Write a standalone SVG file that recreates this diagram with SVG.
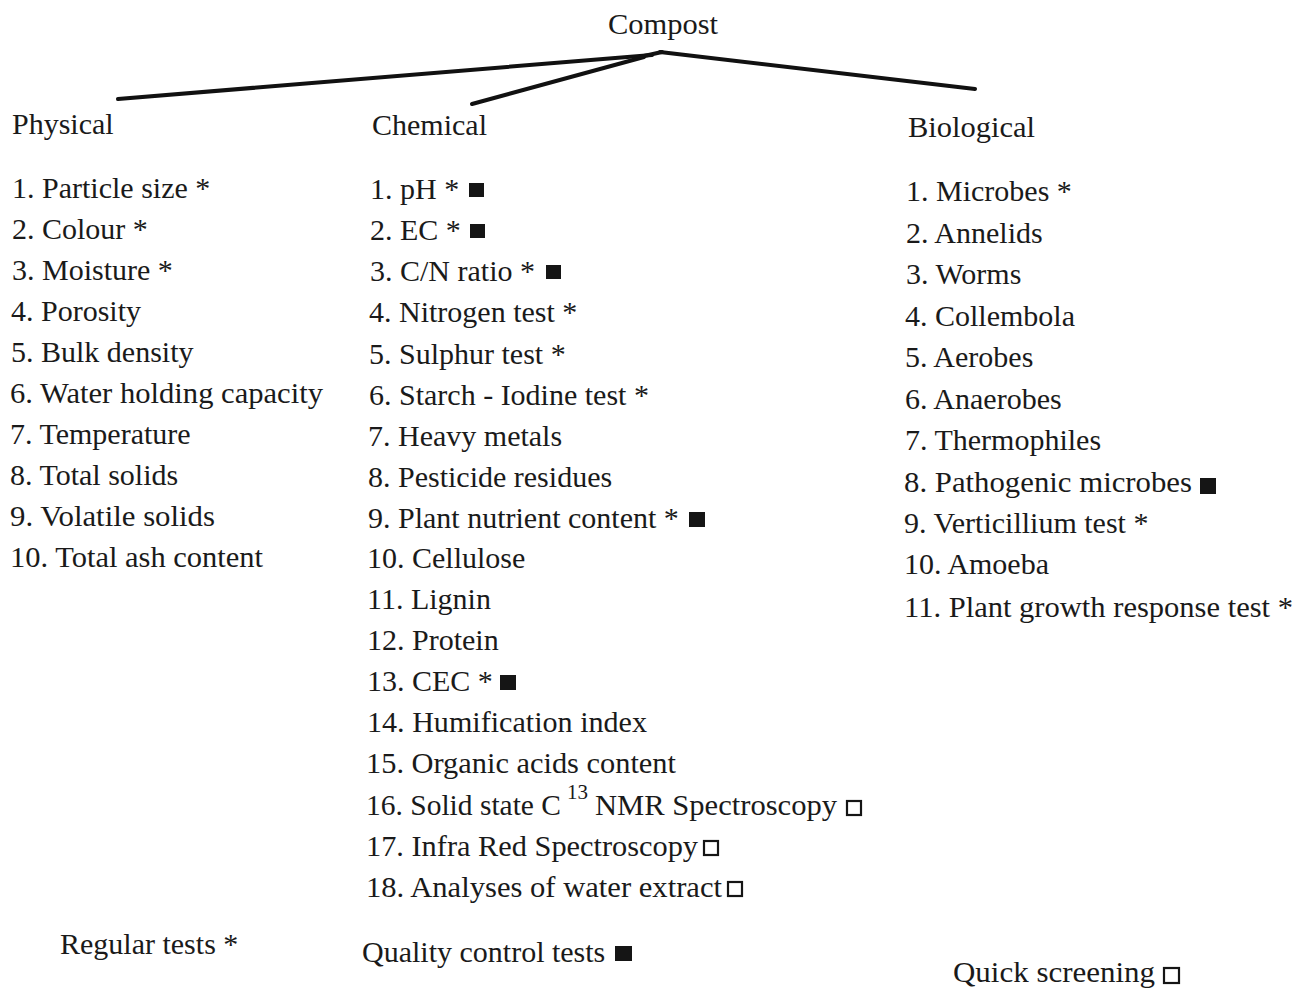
<svg xmlns="http://www.w3.org/2000/svg" width="1304" height="992" viewBox="0 0 1304 992">
<style>
text{font-family:"Liberation Serif","Times New Roman",serif;font-size:30px;fill:#1a1a1a}
text.sup{font-size:21px}
.c{stroke:#111;stroke-width:4;fill:none;stroke-linecap:round}
.f{fill:#151515}
.h{fill:#fff;stroke:#151515;stroke-width:2.2}
</style>
<rect width="1304" height="992" fill="#fff"/>
<g id="connectors">
<line class="c" x1="118" y1="99" x2="652" y2="55"/>
<line class="c" x1="472" y1="104" x2="644" y2="57"/>
<line class="c" x1="660" y1="52" x2="975" y2="89"/>
<line class="c" x1="644" y1="56" x2="662" y2="52"/>
</g>
<g id="compost"><text x="608" y="34" textLength="110" lengthAdjust="spacingAndGlyphs">Compost</text></g>
<g id="physical">
<text x="12" y="134">Physical</text>
<text x="12" y="198">1. Particle size *</text>
<text x="12" y="239">2. Colour *</text>
<text x="12" y="280">3. Moisture *</text>
<text x="11" y="321">4. Porosity</text>
<text x="11" y="362">5. Bulk density</text>
<text x="10" y="403" textLength="313" lengthAdjust="spacingAndGlyphs">6. Water holding capacity</text>
<text x="10" y="444">7. Temperature</text>
<text x="10" y="485">8. Total solids</text>
<text x="10" y="526" textLength="205" lengthAdjust="spacingAndGlyphs">9. Volatile solids</text>
<text x="10" y="567" textLength="253" lengthAdjust="spacingAndGlyphs">10. Total ash content</text>
</g>
<g id="chemical">
<text x="372" y="135">Chemical</text>
<text x="370" y="199">1. pH *</text><rect class="f" x="469" y="183" width="15" height="14"/>
<text x="370" y="240">2. EC *</text><rect class="f" x="470" y="224" width="15" height="14"/>
<text x="370" y="281">3. C/N ratio *</text><rect class="f" x="546" y="265" width="15" height="14"/>
<text x="369" y="322">4. Nitrogen test *</text>
<text x="369" y="364">5. Sulphur test *</text>
<text x="369" y="405">6. Starch - Iodine test *</text>
<text x="368" y="446">7. Heavy metals</text>
<text x="368" y="487">8. Pesticide residues</text>
<text x="368" y="528">9. Plant nutrient content *</text><rect class="f" x="689" y="512" width="16" height="15"/>
<text x="367" y="568">10. Cellulose</text>
<text x="367" y="609">11. Lignin</text>
<text x="367" y="650">12. Protein</text>
<text x="367" y="691">13. CEC *</text><rect class="f" x="500" y="675" width="16" height="15"/>
<text x="367" y="732" textLength="280" lengthAdjust="spacingAndGlyphs">14. Humification index</text>
<text x="366" y="773" textLength="310" lengthAdjust="spacingAndGlyphs">15. Organic acids content</text>
<text x="366" y="815" textLength="195" lengthAdjust="spacingAndGlyphs">16. Solid state C</text><text class="sup" x="567" y="799" textLength="21" lengthAdjust="spacingAndGlyphs">13</text><text x="595" y="815" textLength="242" lengthAdjust="spacingAndGlyphs">NMR Spectroscopy</text><rect class="h" x="847" y="801" width="14" height="14"/>
<text x="366" y="856" textLength="332" lengthAdjust="spacingAndGlyphs">17. Infra Red Spectroscopy</text><rect class="h" x="704" y="841" width="14" height="14"/>
<text x="366" y="897" textLength="356" lengthAdjust="spacingAndGlyphs">18. Analyses of water extract</text><rect class="h" x="728" y="882" width="14" height="14"/>
</g>
<g id="biological">
<text x="908" y="137" textLength="127" lengthAdjust="spacingAndGlyphs">Biological</text>
<text x="906" y="201">1. Microbes *</text>
<text x="906" y="243">2. Annelids</text>
<text x="906" y="284">3. Worms</text>
<text x="905" y="326">4. Collembola</text>
<text x="905" y="367">5. Aerobes</text>
<text x="905" y="409">6. Anaerobes</text>
<text x="905" y="450">7. Thermophiles</text>
<text x="904" y="492" textLength="288" lengthAdjust="spacingAndGlyphs">8. Pathogenic microbes</text><rect class="f" x="1200" y="478" width="16" height="16"/>
<text x="904" y="533">9. Verticillium test *</text>
<text x="904" y="574">10. Amoeba</text>
<text x="904" y="617" textLength="389" lengthAdjust="spacingAndGlyphs">11. Plant growth response test *</text>
</g>
<g id="legend-regular"><text x="60" y="954">Regular tests *</text></g>
<g id="legend-quality"><text x="362" y="962">Quality control tests</text><rect class="f" x="615" y="946" width="17" height="15"/></g>
<g id="legend-quick"><text x="953" y="982" textLength="202" lengthAdjust="spacingAndGlyphs">Quick screening</text><rect class="h" x="1164" y="968" width="15" height="15"/></g>
</svg>
